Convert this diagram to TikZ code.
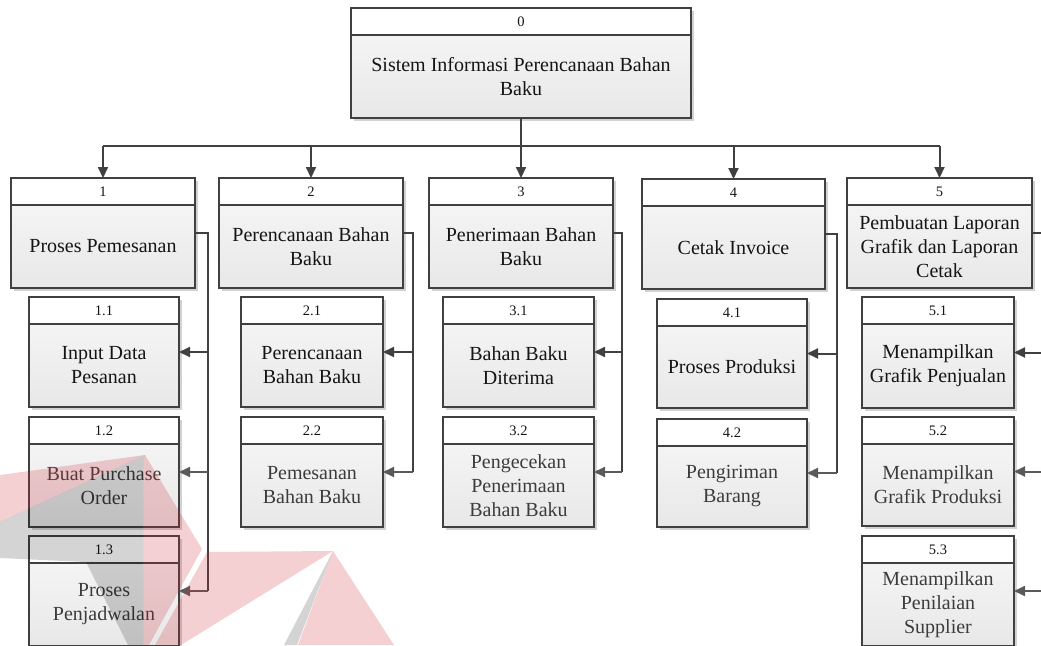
\documentclass[tikz,border=0pt]{standalone}
\usepackage{fontspec}
\setmainfont{Liberation Serif}
\usetikzlibrary{arrows.meta}

\definecolor{linec}{HTML}{404040}
\definecolor{shadowc}{HTML}{D2D2D2}
\definecolor{bodytop}{HTML}{F8F8F8}
\definecolor{bodybot}{HTML}{E8E8E8}
\definecolor{txtdark}{HTML}{151515}
\definecolor{txtsoft}{HTML}{3C3C3C}
\definecolor{linesoft}{HTML}{5A5A5A}
\definecolor{logored}{RGB}{205,40,55}

\tikzset{
  boxbody/.style={rectangle, inner sep=0pt, outer sep=0pt,
    top color=bodytop, bottom color=bodybot, anchor=north west},
  boxframe/.style={draw=linec, line width=1.2pt},
  sepline/.style={draw=linec, line width=1.8pt},
  numtext/.style={font=\fontsize{14.5}{17}\selectfont, text=txtdark, inner sep=0pt},
  bodytext/.style={font=\fontsize{20}{24}\selectfont, align=center, inner sep=0pt},
  link/.style={draw=linec, line width=2pt},
  linkarrow/.style={link, -{Triangle[length=11pt,width=10pt]}},
  softarrow/.style={draw=linesoft, line width=2pt, -{Triangle[length=11pt,width=10pt]}},
  logopink/.style={fill=logored, fill opacity=0.22},
  logogray/.style={fill=black, fill opacity=0.17},
}

% name, x1, y1, x2, y2, number, text, text colour
\newcommand\procbox[8]{%
  \fill[shadowc] (#2+3,#3+3) rectangle (#4+3,#5+3);
  \node[boxbody, minimum width={(#4-#2)*1pt}, minimum height={(#5-#3)*1pt}] (#1) at (#2,#3) {};
  \fill[white] (#2,#3) rectangle (#4,#3+27);
  \draw[sepline] (#2,#3+27) -- (#4,#3+27);
  \draw[boxframe] (#1.north west) rectangle (#1.south east);
  \node[numtext] (#1-num) at ({(#2+#4)/2},{#3+13.5}) {#6};
  \node[bodytext, text=#8] (#1-txt) at ({(#2+#4)/2},{(#3+27+#5)/2}) {#7};
}

\begin{document}
\begin{tikzpicture}[x=1pt, y=-1pt]
\useasboundingbox (0,0) rectangle (1041,645);

% root
\procbox{b0}{351}{8}{691}{118}{0}{Sistem Informasi Perencanaan Bahan\\Baku}{txtdark}

% first level
\procbox{b1}{11}{178}{195}{288}{1}{Proses Pemesanan}{txtdark}
\procbox{b2}{219}{178}{403}{288}{2}{Perencanaan Bahan\\Baku}{txtdark}
\procbox{b3}{429}{178}{613}{288}{3}{Penerimaan Bahan\\Baku}{txtdark}
\procbox{b4}{642}{179}{825}{289}{4}{Cetak Invoice}{txtdark}
\procbox{b5}{847}{178}{1032}{288}{5}{Pembuatan Laporan\\Grafik dan Laporan\\Cetak}{txtdark}

% second level
\procbox{s11}{29}{297}{179}{407}{1.1}{Input Data\\Pesanan}{txtdark}
\procbox{s12}{29}{417}{179}{527}{1.2}{Buat Purchase\\Order}{txtsoft}
\procbox{s13}{29}{536}{179}{646}{1.3}{Proses\\Penjadwalan}{txtsoft}
\procbox{s21}{241}{297}{383}{407}{2.1}{Perencanaan\\Bahan Baku}{txtdark}
\procbox{s22}{241}{417}{383}{527}{2.2}{Pemesanan\\Bahan Baku}{txtsoft}
\procbox{s31}{443}{297}{594}{407}{3.1}{Bahan Baku\\Diterima}{txtdark}
\procbox{s32}{443}{417}{594}{527}{3.2}{Pengecekan\\Penerimaan\\Bahan Baku}{txtsoft}
\procbox{s41}{657}{299}{807}{408}{4.1}{Proses Produksi}{txtdark}
\procbox{s42}{657}{419}{807}{527}{4.2}{Pengiriman\\Barang}{txtsoft}
\procbox{s51}{862}{297}{1014}{408}{5.1}{Menampilkan\\Grafik Penjualan}{txtdark}
\procbox{s52}{862}{417}{1014}{526}{5.2}{Menampilkan\\Grafik Produksi}{txtsoft}
\procbox{s53}{862}{536}{1014}{646}{5.3}{Menampilkan\\Penilaian\\Supplier}{txtsoft}

% root to first level
\coordinate (bus) at (521,146);
\draw[link] (b0.south) -- (bus);
\draw[link] (b1.north |- bus) -- (b5.north |- bus);
\foreach \b in {b1,b2,b3,b4,b5}
  \draw[linkarrow] (\b.north |- bus) -- (\b.north);

% first level to second level
\coordinate (k1) at (208,233);
\coordinate (k2) at (413,233);
\coordinate (k3) at (622,233);
\coordinate (k4) at (837,234);
\coordinate (k5) at (1045,233);

\draw[link] (b1.east) -- (k1) -- (k1 |- s13.east);
\draw[linkarrow] (k1 |- s11.east) -- (s11.east);
\draw[softarrow] (k1 |- s12.east) -- (s12.east);
\draw[softarrow] (k1 |- s13.east) -- (s13.east);

\draw[link] (b2.east) -- (k2) -- (k2 |- s22.east);
\draw[linkarrow] (k2 |- s21.east) -- (s21.east);
\draw[softarrow] (k2 |- s22.east) -- (s22.east);

\draw[link] (b3.east) -- (k3) -- (k3 |- s32.east);
\draw[linkarrow] (k3 |- s31.east) -- (s31.east);
\draw[softarrow] (k3 |- s32.east) -- (s32.east);

\draw[link] (b4.east) -- (k4) -- (k4 |- s42.east);
\draw[linkarrow] (k4 |- s41.east) -- (s41.east);
\draw[softarrow] (k4 |- s42.east) -- (s42.east);

\draw[link] (b5.east) -- (k5) -- (k5 |- s53.east);
\draw[linkarrow] (k5 |- s51.east) -- (s51.east);
\draw[softarrow] (k5 |- s52.east) -- (s52.east);
\draw[softarrow] (k5 |- s53.east) -- (s53.east);

% faint logo over the lower left corner
\fill[logopink] (145,455) -- (0,475) -- (0,522) -- cycle;
\fill[logogray] (145,455) -- (0,522) -- (0,558) -- (86,562) -- (128,645) -- (143,645) -- (143,460) -- cycle;
\fill[logopink] (145,455) -- (202,549) -- (149,645) -- (143,645) -- (143,460) -- cycle;
\fill[logopink] (207,552) -- (333,551) -- (181,645) -- (155,645) -- cycle;
\fill[logopink] (333,551) -- (298,645) -- (394,645) -- cycle;
\fill[logogray] (333,551) -- (284,645) -- (297,645) -- cycle;
\end{tikzpicture}
\end{document}
